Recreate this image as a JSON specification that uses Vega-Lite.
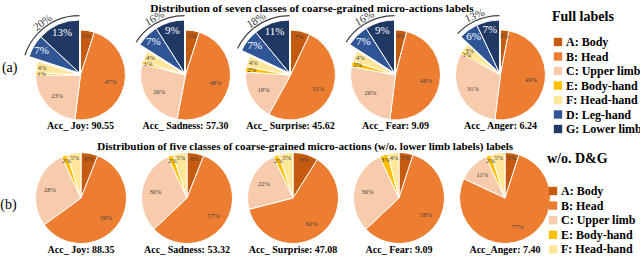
{
  "$schema": "https://vega.github.io/schema/vega-lite/v6.json",
  "padding": {"left": 0, "top": 3, "right": 0, "bottom": 0},
  "background": "white",
  "config": {"font": "Liberation Serif", "view": {"stroke": null}},
  "datasets": {
    "full": [
      {"panel": "(a)", "lab": "Acc_ Joy: 90.55", "cls": "A: Body", "ord": 1, "v": 0.05, "grp": "A"},
      {"panel": "(a)", "lab": "Acc_ Joy: 90.55", "cls": "B: Head", "ord": 2, "v": 0.47, "grp": "B"},
      {"panel": "(a)", "lab": "Acc_ Joy: 90.55", "cls": "C: Upper limb", "ord": 3, "v": 0.23, "grp": "C"},
      {"panel": "(a)", "lab": "Acc_ Joy: 90.55", "cls": "E: Body-hand", "ord": 4, "v": 0.01, "grp": "E"},
      {"panel": "(a)", "lab": "Acc_ Joy: 90.55", "cls": "F: Head-hand", "ord": 5, "v": 0.04, "grp": "F"},
      {"panel": "(a)", "lab": "Acc_ Joy: 90.55", "cls": "D: Leg-hand", "ord": 6, "v": 0.07, "grp": "DG"},
      {"panel": "(a)", "lab": "Acc_ Joy: 90.55", "cls": "G: Lower limb", "ord": 7, "v": 0.13, "grp": "DG"},
      {"panel": "(a)", "lab": "Acc_ Sadness: 57.30", "cls": "A: Body", "ord": 1, "v": 0.05, "grp": "A"},
      {"panel": "(a)", "lab": "Acc_ Sadness: 57.30", "cls": "B: Head", "ord": 2, "v": 0.48, "grp": "B"},
      {"panel": "(a)", "lab": "Acc_ Sadness: 57.30", "cls": "C: Upper limb", "ord": 3, "v": 0.26, "grp": "C"},
      {"panel": "(a)", "lab": "Acc_ Sadness: 57.30", "cls": "E: Body-hand", "ord": 4, "v": 0.01, "grp": "E"},
      {"panel": "(a)", "lab": "Acc_ Sadness: 57.30", "cls": "F: Head-hand", "ord": 5, "v": 0.04, "grp": "F"},
      {"panel": "(a)", "lab": "Acc_ Sadness: 57.30", "cls": "D: Leg-hand", "ord": 6, "v": 0.07, "grp": "DG"},
      {"panel": "(a)", "lab": "Acc_ Sadness: 57.30", "cls": "G: Lower limb", "ord": 7, "v": 0.09, "grp": "DG"},
      {"panel": "(a)", "lab": "Acc_ Surprise: 45.62", "cls": "A: Body", "ord": 1, "v": 0.07, "grp": "A"},
      {"panel": "(a)", "lab": "Acc_ Surprise: 45.62", "cls": "B: Head", "ord": 2, "v": 0.51, "grp": "B"},
      {"panel": "(a)", "lab": "Acc_ Surprise: 45.62", "cls": "C: Upper limb", "ord": 3, "v": 0.18, "grp": "C"},
      {"panel": "(a)", "lab": "Acc_ Surprise: 45.62", "cls": "E: Body-hand", "ord": 4, "v": 0.02, "grp": "E"},
      {"panel": "(a)", "lab": "Acc_ Surprise: 45.62", "cls": "F: Head-hand", "ord": 5, "v": 0.04, "grp": "F"},
      {"panel": "(a)", "lab": "Acc_ Surprise: 45.62", "cls": "D: Leg-hand", "ord": 6, "v": 0.07, "grp": "DG"},
      {"panel": "(a)", "lab": "Acc_ Surprise: 45.62", "cls": "G: Lower limb", "ord": 7, "v": 0.11, "grp": "DG"},
      {"panel": "(a)", "lab": "Acc_ Fear: 9.09", "cls": "A: Body", "ord": 1, "v": 0.04, "grp": "A"},
      {"panel": "(a)", "lab": "Acc_ Fear: 9.09", "cls": "B: Head", "ord": 2, "v": 0.48, "grp": "B"},
      {"panel": "(a)", "lab": "Acc_ Fear: 9.09", "cls": "C: Upper limb", "ord": 3, "v": 0.26, "grp": "C"},
      {"panel": "(a)", "lab": "Acc_ Fear: 9.09", "cls": "E: Body-hand", "ord": 4, "v": 0.02, "grp": "E"},
      {"panel": "(a)", "lab": "Acc_ Fear: 9.09", "cls": "F: Head-hand", "ord": 5, "v": 0.04, "grp": "F"},
      {"panel": "(a)", "lab": "Acc_ Fear: 9.09", "cls": "D: Leg-hand", "ord": 6, "v": 0.07, "grp": "DG"},
      {"panel": "(a)", "lab": "Acc_ Fear: 9.09", "cls": "G: Lower limb", "ord": 7, "v": 0.09, "grp": "DG"},
      {"panel": "(a)", "lab": "Acc_ Anger: 6.24", "cls": "A: Body", "ord": 1, "v": 0.03, "grp": "A"},
      {"panel": "(a)", "lab": "Acc_ Anger: 6.24", "cls": "B: Head", "ord": 2, "v": 0.49, "grp": "B"},
      {"panel": "(a)", "lab": "Acc_ Anger: 6.24", "cls": "C: Upper limb", "ord": 3, "v": 0.31, "grp": "C"},
      {"panel": "(a)", "lab": "Acc_ Anger: 6.24", "cls": "E: Body-hand", "ord": 4, "v": 0.01, "grp": "E"},
      {"panel": "(a)", "lab": "Acc_ Anger: 6.24", "cls": "F: Head-hand", "ord": 5, "v": 0.03, "grp": "F"},
      {"panel": "(a)", "lab": "Acc_ Anger: 6.24", "cls": "D: Leg-hand", "ord": 6, "v": 0.06, "grp": "DG"},
      {"panel": "(a)", "lab": "Acc_ Anger: 6.24", "cls": "G: Lower limb", "ord": 7, "v": 0.07, "grp": "DG"}
    ],
    "wo": [
      {"panel": "(b)", "lab": "Acc_ Joy: 88.35", "cls": "A: Body", "ord": 1, "v": 0.06},
      {"panel": "(b)", "lab": "Acc_ Joy: 88.35", "cls": "B: Head", "ord": 2, "v": 0.59},
      {"panel": "(b)", "lab": "Acc_ Joy: 88.35", "cls": "C: Upper limb", "ord": 3, "v": 0.28},
      {"panel": "(b)", "lab": "Acc_ Joy: 88.35", "cls": "E: Body-hand", "ord": 4, "v": 0.02},
      {"panel": "(b)", "lab": "Acc_ Joy: 88.35", "cls": "F: Head-hand", "ord": 5, "v": 0.05},
      {"panel": "(b)", "lab": "Acc_ Sadness: 53.32", "cls": "A: Body", "ord": 1, "v": 0.06},
      {"panel": "(b)", "lab": "Acc_ Sadness: 53.32", "cls": "B: Head", "ord": 2, "v": 0.57},
      {"panel": "(b)", "lab": "Acc_ Sadness: 53.32", "cls": "C: Upper limb", "ord": 3, "v": 0.30},
      {"panel": "(b)", "lab": "Acc_ Sadness: 53.32", "cls": "E: Body-hand", "ord": 4, "v": 0.02},
      {"panel": "(b)", "lab": "Acc_ Sadness: 53.32", "cls": "F: Head-hand", "ord": 5, "v": 0.05},
      {"panel": "(b)", "lab": "Acc_ Surprise: 47.08", "cls": "A: Body", "ord": 1, "v": 0.09},
      {"panel": "(b)", "lab": "Acc_ Surprise: 47.08", "cls": "B: Head", "ord": 2, "v": 0.62},
      {"panel": "(b)", "lab": "Acc_ Surprise: 47.08", "cls": "C: Upper limb", "ord": 3, "v": 0.22},
      {"panel": "(b)", "lab": "Acc_ Surprise: 47.08", "cls": "E: Body-hand", "ord": 4, "v": 0.02},
      {"panel": "(b)", "lab": "Acc_ Surprise: 47.08", "cls": "F: Head-hand", "ord": 5, "v": 0.05},
      {"panel": "(b)", "lab": "Acc_ Fear: 9.09", "cls": "A: Body", "ord": 1, "v": 0.05},
      {"panel": "(b)", "lab": "Acc_ Fear: 9.09", "cls": "B: Head", "ord": 2, "v": 0.58},
      {"panel": "(b)", "lab": "Acc_ Fear: 9.09", "cls": "C: Upper limb", "ord": 3, "v": 0.30},
      {"panel": "(b)", "lab": "Acc_ Fear: 9.09", "cls": "E: Body-hand", "ord": 4, "v": 0.03},
      {"panel": "(b)", "lab": "Acc_ Fear: 9.09", "cls": "F: Head-hand", "ord": 5, "v": 0.04},
      {"panel": "(b)", "lab": "Acc_Anger: 7.40", "cls": "A: Body", "ord": 1, "v": 0.05},
      {"panel": "(b)", "lab": "Acc_Anger: 7.40", "cls": "B: Head", "ord": 2, "v": 0.77},
      {"panel": "(b)", "lab": "Acc_Anger: 7.40", "cls": "C: Upper limb", "ord": 3, "v": 0.11},
      {"panel": "(b)", "lab": "Acc_Anger: 7.40", "cls": "E: Body-hand", "ord": 4, "v": 0.02},
      {"panel": "(b)", "lab": "Acc_Anger: 7.40", "cls": "F: Head-hand", "ord": 5, "v": 0.05}
    ]
  },
  "vconcat": [
    {
      "data": {"name": "full"},
      "title": {"text": "Distribution of seven classes of coarse-grained micro-actions labels", "fontSize": 11.4, "fontWeight": "bold", "font": "Liberation Serif", "offset": -10, "color": "black", "anchor": "middle", "dx": -10},
      "bounds": "flush",
      "facet": {
        "row": {"field": "panel", "type": "nominal", "header": {"title": null, "labelAngle": 0, "labelFontSize": 14, "labelFont": "Liberation Serif", "labelPadding": -5, "labelColor": "black", "labelBaseline": "bottom"}},
        "column": {"field": "lab", "type": "nominal", "sort": ["Acc_ Joy: 90.55", "Acc_ Sadness: 57.30", "Acc_ Surprise: 45.62", "Acc_ Fear: 9.09", "Acc_ Anger: 6.24"], "header": {"title": null, "labelOrient": "bottom", "labelFontSize": 10, "labelFontWeight": "bold", "labelFont": "Liberation Serif", "labelPadding": 1, "labelColor": "black"}}
      },
      "spacing": {"row": 0, "column": 0},
      "spec": {
        "width": 105,
        "height": 90,
        "layer": [
          {
            "mark": {"type": "arc", "radius": 45, "stroke": "white", "strokeWidth": 1},
            "encoding": {
              "theta": {"field": "v", "type": "quantitative", "stack": true, "scale": {"domain": [0, 1]}},
              "order": {"field": "ord", "type": "quantitative"},
              "color": {"field": "cls", "type": "nominal", "scale": {"domain": ["A: Body", "B: Head", "C: Upper limb", "E: Body-hand", "F: Head-hand", "D: Leg-hand", "G: Lower limb"], "range": ["#C55A11", "#ED7D31", "#F8CBAD", "#FFC000", "#FFE699", "#2F5597", "#1F3864"]}, "legend": {"title": "Full labels", "orient": "none", "legendX": 524, "legendY": -20, "titleFontSize": 14, "titleFont": "Liberation Serif", "titleFontWeight": "bold", "titleColor": "black", "titlePadding": 12, "labelFontSize": 12, "labelFont": "Liberation Serif", "labelFontWeight": "bold", "labelColor": "black", "symbolType": "square", "symbolSize": 70, "symbolStrokeWidth": 0, "rowPadding": 2.5, "labelOffset": 2}},
              "opacity": {"condition": {"test": "datum.grp == 'DG'", "value": 0}, "value": 1}
            }
          },
          {
            "mark": {"type": "arc", "radius": 53, "stroke": "white", "strokeWidth": 1, "xOffset": -1, "yOffset": -2},
            "encoding": {
              "theta": {"field": "v", "type": "quantitative", "stack": true},
              "order": {"field": "ord", "type": "quantitative"},
              "color": {"field": "cls", "type": "nominal"},
              "opacity": {"condition": {"test": "datum.grp == 'DG'", "value": 1}, "value": 0}
            }
          },
          {
            "mark": {"type": "arc", "radius": 58, "radius2": 56.8, "fill": "#404040", "xOffset": -1, "yOffset": -2},
            "encoding": {
              "theta": {"field": "v", "type": "quantitative", "stack": true},
              "order": {"field": "ord", "type": "quantitative"},
              "opacity": {"condition": {"test": "datum.grp == 'DG'", "value": 1}, "value": 0}
            }
          },
          {
            "mark": {"type": "text", "radius": 31, "fontSize": 6.5, "font": "Liberation Serif", "fill": "#404040"},
            "encoding": {
              "theta": {"field": "v", "type": "quantitative", "stack": true},
              "order": {"field": "ord", "type": "quantitative"},
              "text": {"field": "v", "type": "quantitative", "format": ".0%"},
              "opacity": {"condition": {"test": "datum.grp == 'DG' || datum.v < 0.1", "value": 0}, "value": 1}
            }
          },
          {
            "mark": {"type": "text", "radius": 39, "fontSize": 6.5, "font": "Liberation Serif", "fill": "#404040"},
            "encoding": {
              "theta": {"field": "v", "type": "quantitative", "stack": true},
              "order": {"field": "ord", "type": "quantitative"},
              "text": {"field": "v", "type": "quantitative", "format": ".0%"},
              "opacity": {"condition": {"test": "datum.grp != 'DG' && datum.v < 0.1", "value": 1}, "value": 0}
            }
          },
          {
            "mark": {"type": "text", "radius": 44, "fontSize": 11, "font": "Liberation Serif", "fill": "white", "xOffset": -1, "yOffset": -2},
            "encoding": {
              "theta": {"field": "v", "type": "quantitative", "stack": true},
              "order": {"field": "ord", "type": "quantitative"},
              "text": {"field": "v", "type": "quantitative", "format": ".0%"},
              "opacity": {"condition": {"test": "datum.grp == 'DG'", "value": 1}, "value": 0}
            }
          },
          {
            "transform": [{"aggregate": [{"op": "sum", "field": "v", "as": "s"}, {"op": "min", "field": "ord", "as": "o"}], "groupby": ["panel", "lab", "grp"]}],
            "mark": {"type": "text", "radius": 62, "fontSize": 11, "font": "Liberation Serif", "fill": "#404040", "xOffset": -1, "yOffset": -2},
            "encoding": {
              "theta": {"field": "s", "type": "quantitative", "stack": true},
              "order": {"field": "o", "type": "quantitative"},
              "text": {"field": "s", "type": "quantitative", "format": ".0%"},
              "angle": {"field": "s", "type": "quantitative", "scale": {"domain": [0, 1], "range": [360, 180]}, "legend": null},
              "opacity": {"condition": {"test": "datum.grp == 'DG'", "value": 1}, "value": 0}
            }
          }
        ]
      }
    },
    {
      "data": {"name": "wo"},
      "title": {"text": "Distribution of five classes of coarse-grained micro-actions (w/o. lower limb labels) labels", "fontSize": 11, "fontWeight": "bold", "font": "Liberation Serif", "offset": -1, "color": "black", "anchor": "middle", "dx": -13},
      "bounds": "flush",
      "facet": {
        "row": {"field": "panel", "type": "nominal", "header": {"title": null, "labelAngle": 0, "labelFontSize": 14, "labelFont": "Liberation Serif", "labelPadding": -5, "labelColor": "black", "labelBaseline": "top"}},
        "column": {"field": "lab", "type": "nominal", "sort": ["Acc_ Joy: 88.35", "Acc_ Sadness: 53.32", "Acc_ Surprise: 47.08", "Acc_ Fear: 9.09", "Acc_Anger: 7.40"], "header": {"title": null, "labelOrient": "bottom", "labelFontSize": 10, "labelFontWeight": "bold", "labelFont": "Liberation Serif", "labelPadding": 2, "labelColor": "black"}}
      },
      "spacing": {"row": 0, "column": 0},
      "spec": {
        "width": 106,
        "height": 90,
        "layer": [
          {
            "mark": {"type": "arc", "radius": 45.5, "stroke": "white", "strokeWidth": 1},
            "encoding": {
              "theta": {"field": "v", "type": "quantitative", "stack": true, "scale": {"domain": [0, 1]}},
              "order": {"field": "ord", "type": "quantitative"},
              "color": {"field": "cls", "type": "nominal", "scale": {"domain": ["A: Body", "B: Head", "C: Upper limb", "E: Body-hand", "F: Head-hand"], "range": ["#C55A11", "#ED7D31", "#F8CBAD", "#FFC000", "#FFE699"]}, "legend": {"title": "w/o. D&G", "orient": "none", "legendX": 519, "legendY": -1, "titleFontSize": 14, "titleFont": "Liberation Serif", "titleFontWeight": "bold", "titleColor": "black", "titlePadding": 19, "labelFontSize": 12, "labelFont": "Liberation Serif", "labelFontWeight": "bold", "labelColor": "black", "symbolType": "square", "symbolSize": 70, "symbolStrokeWidth": 0, "rowPadding": 2.6, "labelOffset": 2}}
            }
          },
          {
            "mark": {"type": "text", "radius": 32, "fontSize": 6.5, "font": "Liberation Serif", "fill": "#404040"},
            "encoding": {
              "theta": {"field": "v", "type": "quantitative", "stack": true},
              "order": {"field": "ord", "type": "quantitative"},
              "text": {"field": "v", "type": "quantitative", "format": ".0%"},
              "opacity": {"condition": {"test": "datum.v < 0.1", "value": 0}, "value": 1}
            }
          },
          {
            "mark": {"type": "text", "radius": 40, "fontSize": 6.5, "font": "Liberation Serif", "fill": "#404040"},
            "encoding": {
              "theta": {"field": "v", "type": "quantitative", "stack": true},
              "order": {"field": "ord", "type": "quantitative"},
              "text": {"field": "v", "type": "quantitative", "format": ".0%"},
              "opacity": {"condition": {"test": "datum.v < 0.1", "value": 1}, "value": 0}
            }
          }
        ]
      }
    }
  ],
  "spacing": 5,
  "resolve": {"scale": {"color": "independent", "theta": "independent"}, "legend": {"color": "independent"}}
}
